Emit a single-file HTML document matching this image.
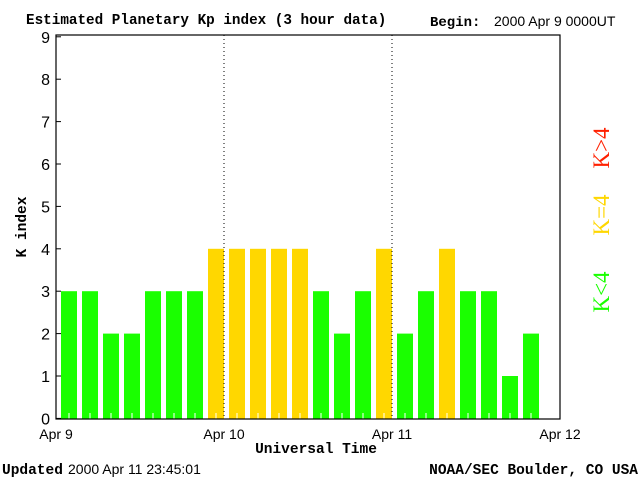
<!DOCTYPE html>
<html><head><meta charset="utf-8"><style>
body{margin:0;background:#fff;}
svg{display:block}
text{font-family:"Liberation Serif",serif;}
.s{font-family:"Liberation Sans",sans-serif;}
.m{font-family:"Liberation Mono",monospace;font-weight:bold;}
</style></head><body>
<svg id="c" width="640" height="480">
<text x="26" y="24" font-size="14.3" class="m">Estimated Planetary Kp index (3 hour data)</text>
<text x="430" y="26" font-size="14" class="m">Begin:</text>
<text x="494" y="26" font-size="14" class="s">2000 Apr 9 0000UT</text>
<text x="2" y="474" font-size="14.5" class="m">Updated</text>
<text x="68" y="474" font-size="14" class="s">2000 Apr 11 23:45:01</text>
<text x="638" y="474" font-size="14.5" class="m" text-anchor="end">NOAA/SEC Boulder, CO USA</text>
<text x="316" y="453" font-size="14.5" class="m" text-anchor="middle">Universal Time</text>
<text transform="translate(26,227) rotate(-90)" font-size="14.5" class="m" text-anchor="middle">K index</text>
<text transform="translate(609,148) rotate(-90)" font-size="23" fill="#ff2000" text-anchor="middle">K&gt;4</text>
<text transform="translate(609,215) rotate(-90)" font-size="23" fill="#ffd700" text-anchor="middle">K=4</text>
<text transform="translate(609,292) rotate(-90)" font-size="23" fill="#1aff00" text-anchor="middle">K&lt;4</text>
<g id="bars"></g>
<g id="axes"></g>
</svg>
<script>
const kpValues=[3,3,2,2,3,3,3,4,4,4,4,4,3,2,3,4,2,3,4,3,3,1,2];
const yTicks=[0,1,2,3,4,5,6,7,8,9];
const dayLabels=["Apr 9","Apr 10","Apr 11","Apr 12"];
const L=56,R=560,T=35,B=419,Y0=418.4,UNIT=42.4,SLOT=21;
const ns="http://www.w3.org/2000/svg";
const y=v=>Y0-v*UNIT;
const x=i=>L+i*SLOT;
function mk(tag,attrs,parent){const e=document.createElementNS(ns,tag);for(const k in attrs)e.setAttribute(k,attrs[k]);parent.appendChild(e);return e;}
const bars=document.getElementById('bars'),axes=document.getElementById('axes');
kpValues.forEach((v,i)=>{
  const col=v<4?'#1aff00':(v==4?'#ffd700':'#ff2000');
  const r=mk('rect',{x:x(i)+5,y:y(v),width:16,height:B-y(v),fill:col},bars);
  
  
  const t=mk('line',{x1:x(i)+13,x2:x(i)+13,y1:B,y2:B-6,stroke:'#fff','stroke-width':1},bars);
  
  
});
[1,2].forEach(d=>{
  const l=mk('line',{x1:x(d*8),x2:x(d*8),y1:T,y2:B,stroke:'#000','stroke-dasharray':'1,3'},axes);
  
  
});
const frame=mk('rect',{x:L,y:T,width:R-L,height:B-T,fill:'none',stroke:'#000','stroke-width':1.2},axes);


yTicks.forEach(v=>{
  const tk=mk('line',{x1:L,x2:L+5,y1:y(v),y2:y(v),stroke:'#000'},axes);
  
  
  const tx=mk('text',{x:L-6,y:y(v)+6,'font-size':16,'text-anchor':'end',class:'s'},axes);
  tx.textContent=v;
  
  
});
dayLabels.forEach((d,i)=>{
  const tx=mk('text',{x:x(i*8),y:439,'font-size':14,'text-anchor':'middle',class:'s'},axes);
  tx.textContent=d;
  
  
});
</script>
</body></html>
